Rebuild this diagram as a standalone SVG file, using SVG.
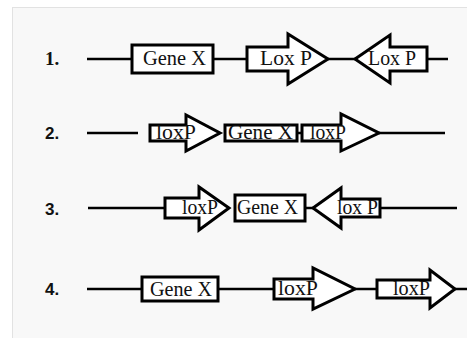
<svg xmlns="http://www.w3.org/2000/svg" width="467" height="338" viewBox="0 0 467 338">
<style>
.ln{stroke:#000;stroke-width:2.5;fill:none}
.bx{fill:#fff;stroke:#000;stroke-width:3}
.ar{fill:#fff;stroke:#000;stroke-width:3;stroke-linejoin:miter}
.t{font-family:"Liberation Serif","Times New Roman",serif;font-size:20px;fill:#111}
.n1{font-family:"Liberation Serif",serif;font-weight:bold;font-size:19px;fill:#111}
.n{font-family:"Liberation Sans",Arial,sans-serif;font-weight:bold;font-size:17px;fill:#111}
</style>
<rect x="0" y="0" width="467" height="338" fill="#fff"/>
<rect x="12.5" y="7.5" width="460" height="340" fill="#f8f8f8" stroke="#e2e2e2" stroke-width="1"/>

<g id="connectors">
<line class="ln" x1="87" y1="59" x2="132" y2="59"/>
<line class="ln" x1="213" y1="59" x2="247" y2="59"/>
<line class="ln" x1="328" y1="59" x2="355" y2="59"/>
<line class="ln" x1="427" y1="59" x2="448" y2="59"/>
<line class="ln" x1="87" y1="133" x2="138" y2="133"/>
<line class="ln" x1="297" y1="133" x2="302" y2="133"/>
<line class="ln" x1="379" y1="133" x2="445" y2="133"/>
<line class="ln" x1="88" y1="208" x2="165" y2="208"/>
<line class="ln" x1="305" y1="208" x2="313" y2="208"/>
<line class="ln" x1="380" y1="208" x2="457" y2="208"/>
<line class="ln" x1="87" y1="289" x2="142" y2="289"/>
<line class="ln" x1="218" y1="289" x2="274" y2="289"/>
<line class="ln" x1="355" y1="289" x2="377" y2="289"/>
<line class="ln" x1="455" y1="289" x2="467" y2="289"/>
</g>

<g id="labels">
<text class="n1" x="45" y="65">1.</text>
<text class="n" x="45" y="139">2.</text>
<text class="n" x="45" y="215">3.</text>
<text class="n" x="45" y="295">4.</text>
</g>

<g id="r1-gene">
<rect class="bx" x="132" y="45" width="81" height="28"/>
<text class="t" x="143" y="65" textLength="63" lengthAdjust="spacingAndGlyphs">Gene X</text>
</g>
<g id="r1-lox1">
<polygon class="ar" points="247,47 288,47 288,34 328,59 288,84 288,71 247,71"/>
<text class="t" x="260" y="65" textLength="52" lengthAdjust="spacingAndGlyphs">Lox P</text>
</g>
<g id="r1-lox2">
<polygon class="ar" points="427,47 390,47 390,35 355,59 390,83 390,71 427,71"/>
<text class="t" x="368" y="65" textLength="48" lengthAdjust="spacingAndGlyphs">Lox P</text>
</g>

<g id="r2-lox1">
<polygon class="ar" points="150,125 186,125 186,115 220,133 186,151 186,141 150,141"/>
<text class="t" x="156" y="139" textLength="40" lengthAdjust="spacingAndGlyphs">loxP</text>
</g>
<g id="r2-gene">
<rect class="bx" x="225" y="125" width="72" height="16"/>
<text class="t" x="228" y="139" textLength="65" lengthAdjust="spacingAndGlyphs">Gene X</text>
</g>
<g id="r2-lox2">
<polygon class="ar" points="302,125 341,125 341,114 379,133 341,151 341,141 302,141"/>
<text class="t" x="310" y="139" textLength="36" lengthAdjust="spacingAndGlyphs">loxP</text>
</g>

<g id="r3-lox1">
<polygon class="ar" points="165,198 199,198 199,187 229,208 199,230 199,218 165,218"/>
<text class="t" x="182" y="214" textLength="36" lengthAdjust="spacingAndGlyphs">loxP</text>
</g>
<g id="r3-gene">
<rect class="bx" x="235" y="195" width="70" height="26"/>
<text class="t" x="237" y="214" textLength="61" lengthAdjust="spacingAndGlyphs">Gene X</text>
</g>
<g id="r3-lox2">
<polygon class="ar" points="380,199 341,199 341,188 313,208 341,228 341,217 380,217"/>
<text class="t" x="337" y="214" textLength="41" lengthAdjust="spacingAndGlyphs">lox P</text>
</g>

<g id="r4-gene">
<rect class="bx" x="142" y="277" width="76" height="24"/>
<text class="t" x="150" y="296" textLength="62" lengthAdjust="spacingAndGlyphs">Gene X</text>
</g>
<g id="r4-lox1">
<polygon class="ar" points="274,279 313,279 313,268 355,289 313,309 313,299 274,299"/>
<text class="t" x="278" y="295" textLength="40" lengthAdjust="spacingAndGlyphs">loxP</text>
</g>
<g id="r4-lox2">
<polygon class="ar" points="377,280 430,280 430,270 455,289 430,308 430,298 377,298"/>
<text class="t" x="393" y="295" textLength="37" lengthAdjust="spacingAndGlyphs">loxP</text>
</g>
</svg>
